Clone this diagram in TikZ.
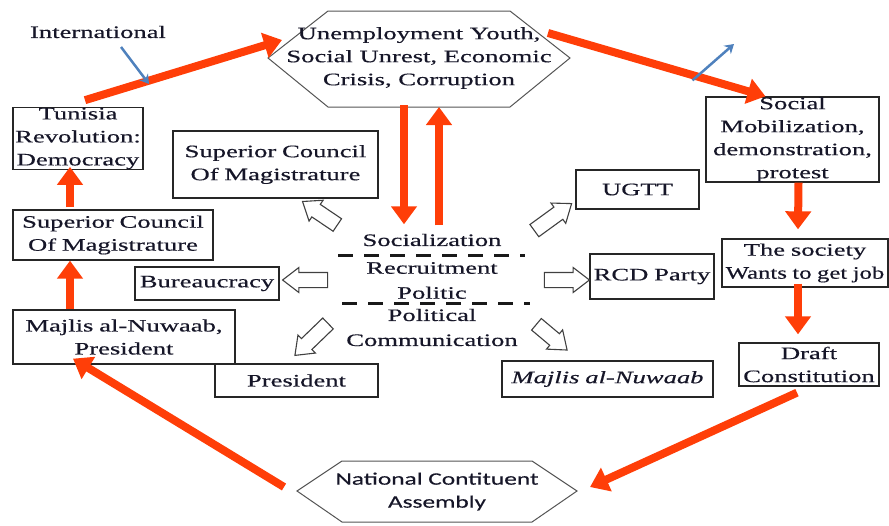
\documentclass[tikz,border=0pt]{standalone}
\usepackage{fontspec}
\setmainfont{Liberation Serif}[FakeStretch=1.52,FakeBold=0.4]
\newfontfamily\calfont{Carlito}[FakeStretch=1.45,FakeBold=0.3]
\usetikzlibrary{arrows.meta,shapes.arrows,calc}
\definecolor{flowred}{RGB}{255,62,8}
\definecolor{linkblue}{RGB}{79,129,189}
\definecolor{edgegray}{RGB}{85,85,85}
\definecolor{inkcol}{RGB}{22,22,40}

\begin{document}
\begin{tikzpicture}[x=1pt,y=-1pt,
  every node/.style={font=\fontsize{17.5}{23}\selectfont, text=inkcol},
  box/.style={draw=black!85, line width=1.3pt, fill=white, inner sep=0pt,
    align=center, text width=#1},
  hexline/.style={draw=edgegray, line width=1pt, fill=white},
  redarr/.style={draw=flowred, line width=8pt,
    -{Triangle[width=25pt,length=18pt]}},
  bluearr/.style={draw=linkblue, line width=2.5pt,
    -{Stealth[width=11pt,length=9pt]}},
  hollow/.style={single arrow, draw=black!75, fill=white, line width=1.1pt,
    inner xsep=0pt, inner ysep=7pt, minimum height=#1,
    single arrow head extend=5pt, single arrow tip angle=75},
  dashline/.style={draw=black!90, line width=3pt, dash pattern=on 15pt off 11pt}
]
\useasboundingbox (0,0) rectangle (889,525);

% ---- hexagons ----
\draw[hexline] (268,58) -- (328,11) -- (510,11) -- (570,58) -- (510,107) -- (328,107) -- cycle;
\node[align=center] (crisis) at (419,58) {Unemployment Youth,\\Social Unrest, Economic\\Crisis, Corruption};

\draw[hexline] (297,491) -- (342,461) -- (532,461) -- (577,491) -- (532,522) -- (342,522) -- cycle;
\node[align=center, font=\calfont\fontsize{17.5}{23}\selectfont] (nca) at (437,491.5) {National Contituent\\Assembly};

% anchor points on the hexagons
\coordinate (crisisW)  at (282,40);
\coordinate (crisisNE) at (548,33);
\coordinate (crisisS1) at (404,105);
\coordinate (crisisS2) at (439,107);
\coordinate (ncaE) at (590,487);
\coordinate (ncaW) at (284,487);

% ---- boxes ----
\node[box=130, minimum height=59] (tunisia) at (78,138.5) {Tunisia\\Revolution:\\Democracy};
\node[box=205, minimum height=67] (scmR) at (275.5,164.5) {Superior Council\\Of Magistrature};
\node[box=200, minimum height=50] (scmL) at (113,235) {Superior Council\\Of Magistrature};
\node[box=144, minimum height=33] (bureau) at (207,283.5) {Bureaucracy};
\node[box=222, minimum height=54] (majlisP) at (124,337) {Majlis al-Nuwaab,\\President};
\node[box=163, minimum height=33] (president) at (296.5,380.5) {President};
\node[box=123, minimum height=39] (ugtt) at (637.5,189.5) {UGTT};
\node[box=124, minimum height=45] (rcd) at (652,276.5) {RCD Party};
\node[box=211, minimum height=36] (majlisI) at (607.5,379) {\itshape Majlis al-Nuwaab};
\node[box=173, minimum height=85] (social) at (792.5,139.5) {Social\\Mobilization,\\demonstration,\\protest};
\node[box=166, minimum height=48] (society) at (805,263) {The society\\\scalebox{0.93}[1]{Wants to get job}};
\node[box=140, minimum height=43] (draft) at (809,364.5) {Draft\\Constitution};

% ---- political functions in the centre ----
\node (soc) at (432,240) {Socialization};
\node[align=center, font=\fontsize{17.5}{25}\selectfont] (recruit) at (432,280.5) {Recruitment\\Politic};
\node[align=center, font=\fontsize{17.5}{25}\selectfont] (comm) at (432,327.5) {Political\\Communication};
\draw[dashline] (338,255) -- (525,255);
\draw[dashline] (342,303) -- (530,303);

% ---- hollow arrows pointing to the institutions ----
\node[hollow=42, rotate=146] (h1) at (324,216) {};
\node[hollow=46, rotate=36]  (h2) at (549,220) {};
\node[hollow=45, rotate=180] (h3) at (310,280) {};
\node[hollow=45, rotate=0]   (h4) at (562,280) {};
\node[hollow=46, rotate=224] (h5) at (315,336) {};
\node[hollow=40, rotate=-40] (h6) at (548,334) {};

% ---- main cycle ----
\draw[redarr] ([shift={(7,-7)}]tunisia.north) -- (crisisW);
\draw[redarr] (crisisNE) -- ([shift={(-27,0)}]social.north);
\draw[redarr] ([shift={(6,0)}]social.south) -- ([shift={(-7,-9)}]society.north);
\draw[redarr] ([shift={(-7,-4)}]society.south) -- ([shift={(-11,-8)}]draft.north);
\draw[redarr] ([shift={(-12,6)}]draft.south) -- (ncaE);
\draw[redarr] (ncaW) -- ([shift={(-51,-6)}]majlisP.south);
\draw[redarr] ([shift={(-54,0)}]majlisP.north) -- ([shift={(-43,0)}]scmL.south);
\draw[redarr] ([shift={(-43,-2)}]scmL.north) -- ([shift={(-8,-3)}]tunisia.south);
\draw[redarr] (crisisS1) -- ([shift={(-28,-6)}]soc.north);
\draw[redarr] ([shift={(7,-5)}]soc.north) -- (crisisS2);

% ---- outside influences ----
\node (intl) at (98,32) {International};
\coordinate (outward) at (734,44);
\draw[bluearr] ([shift={(23,15)}]intl.center) -- ([shift={(51,52)}]intl.center);
\draw[bluearr] ([shift={(-100,-16)}]social.north) -- (outward);
\end{tikzpicture}
\end{document}
